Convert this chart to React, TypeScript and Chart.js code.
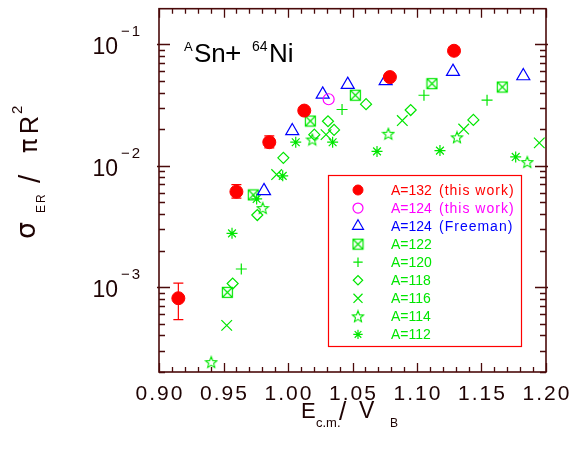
import React, { useEffect, useRef } from "react";
import { Chart, registerables } from "chart.js";
import { drawPoint } from "chart.js/helpers";

Chart.register(...registerables);

// ---------------- data ----------------
const a132X = [0.915, 0.96, 0.9855, 1.0126, 1.079, 1.1287];
const a132Y = [8.1e-4, 6.1e-3, 0.0156, 0.0284, 0.0536, 0.0883];
const a132Lo = [5.4e-4, 5.4e-3, 0.014, null, null, null];
const a132Hi = [1.08e-3, 6.97e-3, 0.0176, null, null, null];

const a124mX = [1.0315];
const a124mY = [0.0352];

const a124fX = [0.9814, 1.0033, 1.0269, 1.0463, 1.0757, 1.1279, 1.1824];
const a124fY = [6.2e-3, 0.0193, 0.0386, 0.0465, 0.0498, 0.0594, 0.0547];

const a122X = [0.953, 0.9731, 1.0173, 1.0522, 1.1116, 1.1661];
const a122Y = [9.06e-4, 5.74e-3, 0.0233, 0.038, 0.0473, 0.0444];

const a120X = [0.9638, 1.0419, 1.1054, 1.1543];
const a120Y = [1.41e-3, 0.029, 0.038, 0.0346];

const a118X = [0.9571, 0.9762, 0.9964, 1.0204, 1.031, 1.0357, 1.0605, 1.0951, 1.1437];
const a118Y = [1.07e-3, 3.92e-3, 0.0116, 0.018, 0.0232, 0.0197, 0.0321, 0.0287, 0.0238];

const a116X = [0.9525, 0.9912, 1.0295, 1.0886, 1.1362, 1.1948];
const a116Y = [4.84e-4, 8.45e-3, 0.018, 0.0235, 0.02, 0.0154];

const a114X = [0.9405, 0.9804, 1.0188, 1.0778, 1.131, 1.1855];
const a114Y = [2.41e-4, 4.47e-3, 0.0164, 0.0183, 0.0171, 0.0107];

const a112X = [0.9566, 0.9757, 0.9959, 1.006, 1.0346, 1.069, 1.1178, 1.1765];
const a112Y = [2.77e-3, 5.32e-3, 8.24e-3, 0.0156, 0.0156, 0.0131, 0.0133, 0.0118];

const xMajorTicks = [0.9, 0.95, 1.0, 1.05, 1.1, 1.15, 1.2];
const xTickLabels = ["0.90", "0.95", "1.00", "1.05", "1.10", "1.15", "1.20"];
const yMajorTicks = [1e-3, 1e-2, 1e-1];
const yTickExponents = ["\u22123", "\u22122", "\u22121"];

const X_MIN = 0.9;
const X_MAX = 1.2;
const Y_MIN = 2e-4;
const Y_MAX = 0.196;

const RED = "#ff0000";
const MAGENTA = "#ff00ff";
const BLUE = "#0000ff";
const GREEN = "#00e600";
const AXIS = "#4a0a0a";
const TEXT = "#1e0303";
const FONT = "'Liberation Sans', Arial, sans-serif";

function zip(xs: number[], ys: number[]) {
  return xs.map((x, i) => ({ x, y: ys[i] }));
}

function makeSquareX(color: string) {
  const c = document.createElement("canvas");
  c.width = 13;
  c.height = 13;
  const g = c.getContext("2d")!;
  g.strokeStyle = color;
  g.lineWidth = 1.2;
  g.strokeRect(1.5, 1.5, 10, 10);
  g.beginPath();
  g.moveTo(1.5, 1.5);
  g.lineTo(11.5, 11.5);
  g.moveTo(11.5, 1.5);
  g.lineTo(1.5, 11.5);
  g.stroke();
  return c;
}

function makeStar5(color: string) {
  const c = document.createElement("canvas");
  c.width = 14;
  c.height = 14;
  const g = c.getContext("2d")!;
  g.strokeStyle = color;
  g.lineWidth = 1.1;
  const cx = 7, cy = 7.5, R = 6, r = 2.6;
  g.beginPath();
  for (let i = 0; i < 10; i++) {
    const a = -Math.PI / 2 + (i * Math.PI) / 5;
    const rr = i % 2 === 0 ? R : r;
    const px = cx + rr * Math.cos(a);
    const py = cy + rr * Math.sin(a);
    if (i === 0) g.moveTo(px, py);
    else g.lineTo(px, py);
  }
  g.closePath();
  g.stroke();
  return c;
}

function setSpacing(ctx: any, v: string) {
  try { ctx.letterSpacing = v; } catch (e) {}
}

export default function App() {
  const ref = useRef<HTMLCanvasElement | null>(null);

  useEffect(() => {
    const canvas = ref.current!;
    const squareX = makeSquareX(GREEN);
    const star5 = makeStar5(GREEN);

    const mk = (
      label: string, paren: string, data: any[], style: any, radius: number,
      border: string, fill: string, bw: number, textColor: string
    ) => ({
      label,
      paren,
      textColor,
      data,
      showLine: false,
      pointStyle: style,
      pointRadius: radius,
      pointBorderColor: border,
      pointBackgroundColor: fill,
      pointBorderWidth: bw,
      borderColor: border,
      backgroundColor: fill,
    });

    const datasets: any[] = [
      mk("A=132", "(this work)", zip(a132X, a132Y), "circle", 6.5, RED, RED, 1, RED),
      mk("A=124", "(this work)", zip(a124mX, a124mY), "circle", 5.5, MAGENTA, "rgba(0,0,0,0)", 1.2, MAGENTA),
      mk("A=124", "(Freeman)", zip(a124fX, a124fY), "triangle", 7.5, BLUE, "rgba(0,0,0,0)", 1.2, BLUE),
      mk("A=122", "", zip(a122X, a122Y), squareX, 6, GREEN, "rgba(0,0,0,0)", 1.2, GREEN),
      mk("A=120", "", zip(a120X, a120Y), "cross", 5.5, GREEN, "rgba(0,0,0,0)", 1.2, GREEN),
      mk("A=118", "", zip(a118X, a118Y), "rectRot", 5.5, GREEN, "rgba(0,0,0,0)", 1.2, GREEN),
      mk("A=116", "", zip(a116X, a116Y), "crossRot", 7.5, GREEN, "rgba(0,0,0,0)", 1.2, GREEN),
      mk("A=114", "", zip(a114X, a114Y), star5, 6, GREEN, "rgba(0,0,0,0)", 1.2, GREEN),
      mk("A=112", "", zip(a112X, a112Y), "star", 5.5, GREEN, "rgba(0,0,0,0)", 1.2, GREEN),
    ];

    const decor = {
      id: "decor",
      beforeDatasetsDraw(chart: any) {
        const ctx = chart.ctx;
        const xs = chart.scales.x;
        const ys = chart.scales.y;
        // error bars for A=132
        ctx.save();
        ctx.strokeStyle = RED;
        ctx.lineWidth = 1.2;
        a132X.forEach((xv, i) => {
          const lo = a132Lo[i];
          const hi = a132Hi[i];
          if (lo == null || hi == null) return;
          const px = xs.getPixelForValue(xv);
          const pLo = ys.getPixelForValue(lo);
          const pHi = ys.getPixelForValue(hi);
          ctx.beginPath();
          ctx.moveTo(px, pLo);
          ctx.lineTo(px, pHi);
          ctx.moveTo(px - 5, pLo);
          ctx.lineTo(px + 5, pLo);
          ctx.moveTo(px - 5, pHi);
          ctx.lineTo(px + 5, pHi);
          ctx.stroke();
        });
        ctx.restore();
      },
      afterDraw(chart: any) {
        const ctx = chart.ctx;
        const area = chart.chartArea;
        const xs = chart.scales.x;
        const ys = chart.scales.y;
        ctx.save();
        // frame
        ctx.strokeStyle = AXIS;
        ctx.lineWidth = 1.6;
        ctx.strokeRect(area.left, area.top, area.right - area.left, area.bottom - area.top);
        // x ticks
        ctx.lineWidth = 1.3;
        ctx.beginPath();
        for (let i = 0; i <= 30; i++) {
          const v = X_MIN + i * 0.01;
          const px = Math.round(xs.getPixelForValue(v)) + 0.5;
          const len = i % 5 === 0 ? 9 : 5;
          ctx.moveTo(px, area.bottom);
          ctx.lineTo(px, area.bottom - len);
          ctx.moveTo(px, area.top);
          ctx.lineTo(px, area.top + len);
        }
        // y ticks
        for (let e = -4; e <= -1; e++) {
          for (let m = 1; m <= 9; m++) {
            const v = m * Math.pow(10, e);
            if (v < Y_MIN || v > Y_MAX) continue;
            const py = Math.round(ys.getPixelForValue(v)) + 0.5;
            const major = m === 1;
            const len = major ? 11 : 6;
            ctx.moveTo(area.left - (major ? 2 : 0), py);
            ctx.lineTo(area.left + len, py);
            ctx.moveTo(area.right + (major ? 2 : 0), py);
            ctx.lineTo(area.right - len, py);
          }
        }
        ctx.stroke();

        // tick labels
        ctx.fillStyle = TEXT;
        ctx.textBaseline = "alphabetic";
        ctx.font = `21px ${FONT}`;
        ctx.textAlign = "center";
        setSpacing(ctx, "2px");
        xMajorTicks.forEach((v, i) => {
          const px = xs.getPixelForValue(v);
          ctx.fillText(xTickLabels[i], px + 1, 400);
        });
        setSpacing(ctx, "0px");
        yMajorTicks.forEach((v, i) => {
          const py = ys.getPixelForValue(v);
          ctx.font = `23px ${FONT}`;
          ctx.textAlign = "right";
          ctx.fillText("10", 118, py + 10);
          ctx.font = `15px ${FONT}`;
          ctx.textAlign = "left";
          setSpacing(ctx, "2px");
          ctx.fillText(yTickExponents[i], 121, py - 8);
          setSpacing(ctx, "0px");
        });

        // x title: E_c.m./V_B
        ctx.textAlign = "left";
        ctx.font = `22px ${FONT}`;
        ctx.fillText("E", 301, 418);
        ctx.font = `13px ${FONT}`;
        ctx.fillText("c.m.", 316, 427);
        ctx.font = `26px ${FONT}`;
        ctx.fillText("/", 339, 420);
        ctx.font = `23px ${FONT}`;
        ctx.fillText("V", 359, 418);
        ctx.font = `12px ${FONT}`;
        ctx.fillText("B", 390, 427);

        // y title: sigma_ER / pi R^2 (rotated)
        ctx.save();
        ctx.translate(38, 241);
        ctx.rotate(-Math.PI / 2);
        ctx.font = `27px 'DejaVu Sans', ${FONT}`;
        ctx.fillText("\u03c3", 2, -3);
        ctx.font = `12px ${FONT}`;
        setSpacing(ctx, "2px");
        ctx.fillText("ER", 28, 7);
        setSpacing(ctx, "0px");
        ctx.font = `30px ${FONT}`;
        ctx.fillText("/", 58, 2);
        ctx.font = `24px 'DejaVu Sans', ${FONT}`;
        ctx.fillText("\u03c0", 88, -1);
        ctx.font = `25px ${FONT}`;
        ctx.fillText("R", 107, 0);
        ctx.font = `15px ${FONT}`;
        ctx.fillText("2", 127, -16);
        ctx.restore();

        // annotation ASn+64Ni
        ctx.fillStyle = "#000000";
        ctx.textAlign = "left";
        ctx.font = `13px ${FONT}`;
        ctx.fillText("A", 184, 51);
        ctx.font = `26px ${FONT}`;
        ctx.fillText("Sn", 194, 62);
        ctx.font = `28px ${FONT}`;
        ctx.fillText("+", 225, 62);
        ctx.font = `14px ${FONT}`;
        ctx.fillText("64", 252, 51);
        ctx.font = `26px ${FONT}`;
        ctx.fillText("Ni", 269, 62);

        // legend
        ctx.strokeStyle = RED;
        ctx.lineWidth = 1.2;
        ctx.strokeRect(328.5, 175.5, 193, 171);
        chart.data.datasets.forEach((ds: any, i: number) => {
          const cy = 190 + i * 18.05;
          ctx.strokeStyle = ds.pointBorderColor;
          ctx.fillStyle = ds.pointBackgroundColor;
          ctx.lineWidth = ds.pointBorderWidth;
          const r = ds.pointStyle === "circle" ? 5 : ds.pointRadius * 0.85;
          drawPoint(ctx, { pointStyle: ds.pointStyle, rotation: 0, radius: r, borderWidth: ds.pointBorderWidth }, 358, cy);
          ctx.fillStyle = ds.textColor;
          ctx.font = `14px ${FONT}`;
          ctx.textAlign = "left";
          ctx.textBaseline = "middle";
          ctx.fillText(ds.label, 391, cy + 1);
          if (ds.paren) {
            setSpacing(ctx, "1px");
            ctx.fillText(ds.paren, 439, cy + 1);
            setSpacing(ctx, "0px");
          }
        });
        ctx.restore();
      },
    };

    const chart = new Chart(canvas, {
      type: "scatter",
      data: { datasets },
      options: {
        animation: false,
        responsive: false,
        devicePixelRatio: 1,
        events: [],
        layout: { padding: { top: 4, right: 24, left: 0, bottom: 0 } },
        plugins: {
          legend: { display: false },
          tooltip: { enabled: false },
        },
        scales: {
          x: {
            type: "linear",
            min: X_MIN,
            max: X_MAX,
            ticks: { display: false },
            grid: { display: false },
            border: { display: false },
            afterFit: (s: any) => { s.height = 83; },
          },
          y: {
            type: "logarithmic",
            min: Y_MIN,
            max: Y_MAX,
            ticks: { display: false },
            grid: { display: false },
            border: { display: false },
            afterFit: (s: any) => { s.width = 159; },
          },
        },
      } as any,
      plugins: [decor],
    });
    return () => chart.destroy();
  }, []);

  return (
    <div style={{ position: "absolute", left: 0, top: 0, width: 570, height: 455, background: "#fff" }}>
      <canvas ref={ref} width={570} height={455} style={{ width: 570, height: 455, display: "block" }} />
    </div>
  );
}
